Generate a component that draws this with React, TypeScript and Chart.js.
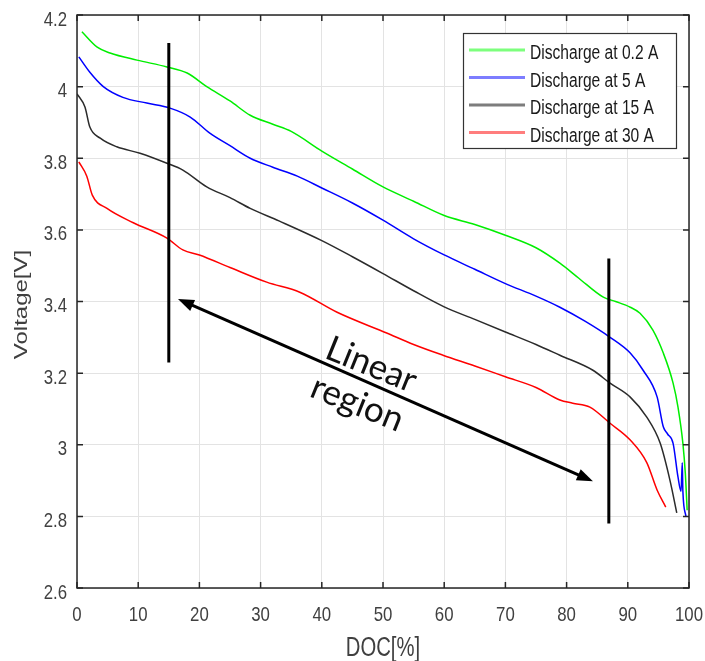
import React, { useEffect, useRef } from "react";
import { Chart, registerables } from "chart.js";

Chart.register(...registerables);

// ---------- data ----------
const seriesLabels = ["Discharge at 0.2 A", "Discharge at 5 A", "Discharge at 15 A", "Discharge at 30 A"];
const seriesColors = ["#00ee00", "#0000ff", "#2b2b2b", "#ff0000"];
const legendColors = ["#7dff7d", "#7d7dff", "#7d7d7d", "#ff7d7d"];

const docGreen = [0.8, 3.3, 5.4, 9.8, 14.7, 18, 21.2, 25, 28.3, 32, 35, 40, 45, 50, 55, 60, 65, 70, 75, 78.9, 82, 86, 88, 90.4, 92, 94.1, 95.8, 97.4, 98.2, 99, 99.4, 99.7];
const vGreen = [4.153, 4.11, 4.094, 4.074, 4.055, 4.038, 4.0, 3.96, 3.92, 3.895, 3.875, 3.82, 3.77, 3.72, 3.68, 3.64, 3.615, 3.585, 3.55, 3.507, 3.465, 3.412, 3.4, 3.384, 3.367, 3.32, 3.256, 3.172, 3.105, 3.004, 2.92, 2.817];

const docBlue = [0.3, 2.1, 4.3, 7.5, 11.4, 15.2, 18.5, 21.7, 25, 28.3, 32, 36, 40, 45, 50, 55, 60, 65, 70, 75, 78.9, 83, 87.1, 90.4, 92.5, 94.8, 95.8, 96.5, 97.4, 98.2, 98.7, 98.9, 99.0, 99.5];
const vBlue = [4.083, 4.04, 4.0, 3.97, 3.954, 3.94, 3.915, 3.87, 3.835, 3.8, 3.775, 3.75, 3.717, 3.675, 3.627, 3.575, 3.53, 3.49, 3.45, 3.415, 3.384, 3.345, 3.3, 3.256, 3.208, 3.133, 3.05, 3.03, 3.004, 2.91, 2.87, 2.95, 2.87, 2.8];

const docBlack = [0, 1.3, 2.1, 3.8, 6.5, 10.3, 14.7, 17.3, 21.2, 25, 28.3, 33, 40, 45, 50, 55, 60, 65, 70, 75, 78.9, 84.3, 87.1, 90.4, 93.1, 95.3, 96.9, 98];
const vBlack = [3.98, 3.943, 3.887, 3.856, 3.832, 3.814, 3.786, 3.767, 3.72, 3.69, 3.66, 3.625, 3.57, 3.525, 3.478, 3.43, 3.385, 3.35, 3.315, 3.28, 3.25, 3.208, 3.172, 3.133, 3.077, 3.004, 2.9, 2.81];

const docRed = [0.3, 1.6, 2.5, 4.9, 9.2, 14.7, 17.3, 20, 25, 31, 36.4, 42.5, 50.6, 55, 59.8, 65, 70, 75, 78.9, 81, 83.8, 87.1, 90.4, 93.1, 94.8, 96.2];
const vRed = [3.79, 3.75, 3.697, 3.66, 3.62, 3.577, 3.544, 3.53, 3.495, 3.454, 3.426, 3.37, 3.312, 3.28, 3.25, 3.22, 3.19, 3.16, 3.125, 3.116, 3.105, 3.06, 3.013, 2.95, 2.873, 2.826];

const xTicks = [0, 10, 20, 30, 40, 50, 60, 70, 80, 90, 100];
const yTicks = [2.6, 2.8, 3, 3.2, 3.4, 3.6, 3.8, 4, 4.2];
const xTitle = "DOC[%]";
const yTitle = "Voltage[V]";

// annotation lines in data coordinates: [x1, y1, x2, y2]
const markerLines = [
  [15, 4.122, 15, 3.23],
  [86.9, 3.52, 86.9, 2.78],
];
const arrowLine = [16.5, 3.407, 84.3, 2.898];
const noteTexts = ["Linear", "region"];
const notePos = [
  [47.4, 3.194],
  [45.1, 3.086],
];

const FONT = "'Liberation Sans', Arial, sans-serif";
const TEXT_GRAY = "#404040";

const toPts = (xs: number[], ys: number[]) => xs.map((x, i) => ({ x, y: ys[i] }));

// draws horizontally condensed text (the reference glyphs are tall and narrow)
function sText(ctx: CanvasRenderingContext2D, text: string, x: number, y: number, size: number, align: CanvasTextAlign, sx: number, color: string) {
  ctx.save();
  ctx.translate(x, y);
  ctx.scale(sx, 1);
  ctx.font = `${size}px ${FONT}`;
  ctx.textAlign = align;
  ctx.textBaseline = "alphabetic";
  ctx.fillStyle = color;
  ctx.fillText(text, 0, 0);
  ctx.restore();
}

const frameAndExtras = {
  id: "frameAndExtras",
  afterDatasetsDraw(chart: any) {
    const { ctx, chartArea: a, scales } = chart;
    const xs = scales.x;
    const ys = scales.y;
    ctx.save();
    // frame
    ctx.strokeStyle = "#262626";
    ctx.lineWidth = 1.5;
    ctx.strokeRect(a.left, a.top, a.right - a.left, a.bottom - a.top);
    // inward ticks on all sides
    const tl = 6;
    ctx.beginPath();
    xTicks.forEach((t) => {
      const px = xs.getPixelForValue(t);
      ctx.moveTo(px, a.bottom);
      ctx.lineTo(px, a.bottom - tl);
      ctx.moveTo(px, a.top);
      ctx.lineTo(px, a.top + tl);
    });
    yTicks.forEach((t) => {
      const py = ys.getPixelForValue(t);
      ctx.moveTo(a.left, py);
      ctx.lineTo(a.left + tl, py);
      ctx.moveTo(a.right, py);
      ctx.lineTo(a.right - tl, py);
    });
    ctx.stroke();

    // tick labels
    xTicks.forEach((t) => {
      sText(ctx, String(t), xs.getPixelForValue(t), a.bottom + 33, 21, "center", 0.8, TEXT_GRAY);
    });
    yTicks.forEach((t) => {
      sText(ctx, String(t), a.left - 10, ys.getPixelForValue(t) + 10.5, 21, "right", 0.8, TEXT_GRAY);
    });
    // axis titles
    sText(ctx, xTitle, (a.left + a.right) / 2, a.bottom + 68, 27, "center", 0.75, TEXT_GRAY);
    ctx.save();
    ctx.translate(27, (a.top + a.bottom) / 2 + 3);
    ctx.rotate(-Math.PI / 2);
    ctx.scale(1, 0.78);
    ctx.font = `24px ${FONT}`;
    ctx.textAlign = "center";
    ctx.textBaseline = "alphabetic";
    ctx.fillStyle = TEXT_GRAY;
    ctx.fillText(yTitle, 0, 0);
    ctx.restore();

    // vertical marker lines
    ctx.strokeStyle = "#000";
    ctx.lineWidth = 3;
    markerLines.forEach(([x1, y1, x2, y2]) => {
      ctx.beginPath();
      ctx.moveTo(xs.getPixelForValue(x1), ys.getPixelForValue(y1));
      ctx.lineTo(xs.getPixelForValue(x2), ys.getPixelForValue(y2));
      ctx.stroke();
    });

    // double arrow
    const ax1 = xs.getPixelForValue(arrowLine[0]);
    const ay1 = ys.getPixelForValue(arrowLine[1]);
    const ax2 = xs.getPixelForValue(arrowLine[2]);
    const ay2 = ys.getPixelForValue(arrowLine[3]);
    const ang = Math.atan2(ay2 - ay1, ax2 - ax1);
    const hl = 16, hw = 6;
    ctx.lineWidth = 3;
    ctx.beginPath();
    ctx.moveTo(ax1 + Math.cos(ang) * hl * 0.8, ay1 + Math.sin(ang) * hl * 0.8);
    ctx.lineTo(ax2 - Math.cos(ang) * hl * 0.8, ay2 - Math.sin(ang) * hl * 0.8);
    ctx.stroke();
    ctx.fillStyle = "#000";
    const head = (tx: number, ty: number, dir: number) => {
      ctx.beginPath();
      ctx.moveTo(tx, ty);
      ctx.lineTo(tx - Math.cos(dir) * hl - Math.sin(dir) * hw, ty - Math.sin(dir) * hl + Math.cos(dir) * hw);
      ctx.lineTo(tx - Math.cos(dir) * hl + Math.sin(dir) * hw, ty - Math.sin(dir) * hl - Math.cos(dir) * hw);
      ctx.closePath();
      ctx.fill();
    };
    head(ax2, ay2, ang);
    head(ax1, ay1, ang + Math.PI);

    // rotated note text
    ctx.fillStyle = "#111";
    ctx.font = "35px Lato, 'Open Sans', sans-serif";
    ctx.textAlign = "center";
    ctx.textBaseline = "alphabetic";
    noteTexts.forEach((t, i) => {
      const px = xs.getPixelForValue(notePos[i][0]);
      const py = ys.getPixelForValue(notePos[i][1]);
      ctx.save();
      ctx.translate(px, py);
      ctx.rotate((22 * Math.PI) / 180);
      ctx.fillText(t, 0, 0);
      ctx.restore();
    });

    // legend box
    const bx = a.right - 226;
    const by = a.top + 18;
    const bw = 213;
    const bh = 115;
    ctx.fillStyle = "#fff";
    ctx.fillRect(bx, by, bw, bh);
    ctx.strokeStyle = "#333";
    ctx.lineWidth = 1.2;
    ctx.strokeRect(bx + 0.5, by + 0.5, bw, bh);
    seriesLabels.forEach((lab, i) => {
      const y = by + 17 + i * 27.5;
      ctx.strokeStyle = legendColors[i];
      ctx.lineWidth = 3;
      ctx.beginPath();
      ctx.moveTo(bx + 6, y);
      ctx.lineTo(bx + 62, y);
      ctx.stroke();
      sText(ctx, lab, bx + 67, y + 9, 19.5, "left", 0.8, "#1a1a1a");
    });
    ctx.restore();
  },
};

export default function App() {
  const ref = useRef<HTMLCanvasElement | null>(null);
  useEffect(() => {
    document.body.style.margin = "0";
    const canvas = ref.current!;
    const datasets = [
      [docGreen, vGreen],
      [docBlue, vBlue],
      [docBlack, vBlack],
      [docRed, vRed],
    ].map(([xs, ys], i) => ({
      label: seriesLabels[i],
      data: toPts(xs, ys),
      borderColor: seriesColors[i],
      backgroundColor: seriesColors[i],
      borderWidth: 1.5,
      pointRadius: 0,
      fill: false,
      cubicInterpolationMode: "monotone" as const,
    }));
    const chart = new Chart(canvas, {
      type: "line",
      data: { datasets },
      options: {
        animation: false,
        responsive: false,
        maintainAspectRatio: false,
        layout: { padding: { top: 15, right: 16, left: 0, bottom: 0 } },
        plugins: { legend: { display: false }, tooltip: { enabled: false } },
        scales: {
          x: {
            type: "linear",
            min: 0,
            max: 100,
            afterBuildTicks: (s: any) => {
              s.ticks = xTicks.map((v) => ({ value: v }));
            },
            afterFit: (s: any) => {
              s.height = 73;
              s.paddingLeft = 0;
              s.paddingRight = 0;
            },
            grid: { color: "#e3e3e3", lineWidth: 1, drawTicks: false },
            border: { display: false },
            ticks: { display: false },
            title: { display: false },
          },
          y: {
            type: "linear",
            min: 2.6,
            max: 4.2,
            afterBuildTicks: (s: any) => {
              s.ticks = yTicks.map((v) => ({ value: v }));
            },
            afterFit: (s: any) => {
              s.width = 77;
              s.paddingTop = 0;
              s.paddingBottom = 0;
            },
            grid: { color: "#e3e3e3", lineWidth: 1, drawTicks: false },
            border: { display: false },
            ticks: { display: false },
            title: { display: false },
          },
        },
      },
      plugins: [frameAndExtras],
    });
    return () => chart.destroy();
  }, []);
  return (
    <div style={{ width: 705, height: 661, background: "#fff" }}>
      <canvas ref={ref} width={705} height={661} style={{ display: "block" }} />
    </div>
  );
}
